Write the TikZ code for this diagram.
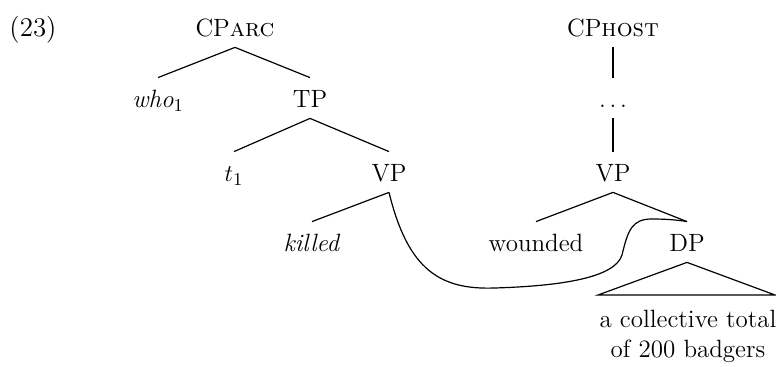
\documentclass[tikz,border=0pt]{standalone}
\begin{document}
\begin{tikzpicture}[x=0.5pt,y=-0.5pt]
% Styles
\tikzstyle{noeud}=[font=\fontsize{12.5}{15}\selectfont,anchor=base,text height=12pt,text depth=2pt,inner xsep=1pt,inner ysep=3pt]
\tikzstyle{feuille}=[font=\fontsize{12.5}{15}\selectfont,anchor=north,align=center,inner sep=0pt]
\tikzstyle{branche}=[line width=0.6pt]
\tikzstyle{lien}=[line width=0.6pt]
% Cadre
\useasboundingbox (0,0) rectangle (776,367);
% Hauteurs des lignes
\def\ligneA{37}
\def\ligneB{108}
\def\ligneC{182}
\def\ligneD{252}
% Numero de l'exemple
\node[noeud] (num) at (33,\ligneA) {\fontsize{13.5}{15}\selectfont(23)};
% Arbre de la relative : CParc
\node[noeud] (cparc) at (235,\ligneA) {CP\textsc{arc}};
\node[noeud] (who) at (158,\ligneB) {\textit{who}$_1$};
\node[noeud] (tp) at (310,\ligneB) {TP};
\node[noeud] (trace) at (234,\ligneC) {$t_1$};
\node[noeud] (vpl) at (389,\ligneC) {VP};
\node[noeud] (killed) at (312,\ligneD) {\textit{killed}};
\draw[branche] (cparc.south) -- (who.north);
\draw[branche] (cparc.south) -- (tp.north);
\draw[branche] (tp.south) -- (trace.north);
\draw[branche] (tp.south) -- (vpl.north);
\draw[branche] (vpl.south) -- (killed.north);
% Arbre de l'hote : CPhost
\node[noeud] (cphost) at (613,\ligneA) {CP\textsc{host}};
\node[noeud] (dots) at (613,\ligneB) {.\kern0.15em.\kern0.15em.};
\node[noeud] (vpr) at (613,\ligneC) {VP};
\node[noeud] (wounded) at (536,\ligneD) {wounded};
\node[noeud] (dp) at (687,\ligneD) {DP};
\draw[branche] (cphost.south) -- (dots.north);
\draw[branche] (dots.south) -- (vpr.north);
\draw[branche] (vpr.south) -- (wounded.north);
\draw[branche] (vpr.south) -- (dp.north);
% Triangle du DP
\coordinate (triG) at (598,295);
\coordinate (triD) at (775,295);
\draw[branche] (dp.south) -- (triG) -- (triD) -- cycle;
\node[feuille] (texte) at (688,310) {a collective total\\of 200 badgers};
% Lien partage
\draw[lien] (vpl.south) .. controls (408,270) and (440,290) .. (495,288)
  .. controls (560,286) and (615,278) .. (622,255)
  .. controls (628,230) and (632,219) .. (652,219)
  .. controls (666,219) and (678,220) .. (dp.north);
\end{tikzpicture}
\end{document}
